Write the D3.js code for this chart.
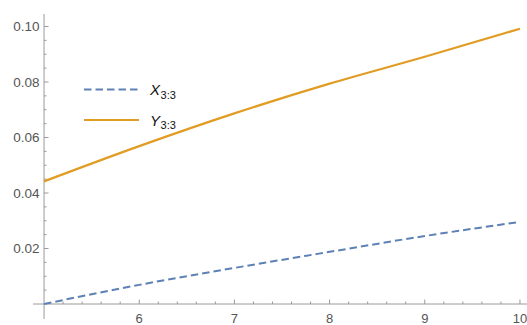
<!DOCTYPE html>
<html>
<head>
<meta charset="utf-8">
<script src="https://cdn.jsdelivr.net/npm/d3@7"></script>
<style>
  html, body { margin: 0; padding: 0; background: #fff; }
  svg { display: block; }
  text { font-family: "Liberation Sans", Arial, sans-serif; }
</style>
</head>
<body>
<svg id="chart" width="527" height="325"></svg>
<script>
// Series values sampled at n = 5 … 10
const xValues = [5, 6, 7, 8, 9, 10];
const xSeries = [0.0, 0.0069, 0.0130, 0.0188, 0.0245, 0.0296];
const ySeries = [0.0442, 0.0569, 0.0687, 0.0794, 0.0891, 0.0992];

const xTickValues = [6, 7, 8, 9, 10];
const yTickValues = [0.02, 0.04, 0.06, 0.08, 0.10];
const yTickLabels = ["0.02", "0.04", "0.06", "0.08", "0.10"];

const seriesNames = ["X", "Y"];
const seriesSub = ["3:3", "3:3"];
const seriesColors = ["#5E81B5", "#E19C24"];

const W = 527, H = 325;
const svg = d3.select("#chart");

const x = d3.scaleLinear().domain([4.884, 10.116]).range([33, 531]);
const y = d3.scaleLinear().domain([-0.0054, 0.1045]).range([319, 14]);

const axisColor = "#9a9a9a";
const labelColor = "#555";

// Axis lines: x-axis at y = 0, y-axis at x = 5
svg.append("line")
  .attr("x1", x.range()[0]).attr("x2", x.range()[1])
  .attr("y1", y(0)).attr("y2", y(0))
  .attr("stroke", axisColor).attr("stroke-width", 1);
svg.append("line")
  .attr("x1", x(5)).attr("x2", x(5))
  .attr("y1", y.range()[0]).attr("y2", y.range()[1])
  .attr("stroke", axisColor).attr("stroke-width", 1);

// X ticks (pointing up), minor every 0.2
const xMinor = d3.range(5.2, 10.01, 0.2).filter(v => Math.abs(v - Math.round(v)) > 1e-6);
svg.append("g").selectAll("line").data(xMinor).join("line")
  .attr("x1", d => x(d)).attr("x2", d => x(d))
  .attr("y1", y(0)).attr("y2", y(0) - 2.5)
  .attr("stroke", axisColor);
svg.append("g").selectAll("line").data(xTickValues).join("line")
  .attr("x1", d => x(d)).attr("x2", d => x(d))
  .attr("y1", y(0)).attr("y2", y(0) - 4.5)
  .attr("stroke", axisColor);
svg.append("g").selectAll("text").data(xTickValues).join("text")
  .attr("x", d => x(d)).attr("y", 322.5)
  .attr("text-anchor", "middle")
  .attr("font-size", 13).attr("fill", labelColor)
  .text(d => d);

// Y ticks (pointing right), minor every 0.005
const yMinor = d3.range(0.005, 0.1041, 0.005).filter(v => Math.abs(v / 0.02 - Math.round(v / 0.02)) > 1e-6);
svg.append("g").selectAll("line").data(yMinor).join("line")
  .attr("x1", x(5)).attr("x2", x(5) + 2.5)
  .attr("y1", d => y(d)).attr("y2", d => y(d))
  .attr("stroke", axisColor);
svg.append("g").selectAll("line").data(yTickValues).join("line")
  .attr("x1", x(5)).attr("x2", x(5) + 4.5)
  .attr("y1", d => y(d)).attr("y2", d => y(d))
  .attr("stroke", axisColor);
svg.append("g").selectAll("text").data(yTickValues).join("text")
  .attr("x", 39.5).attr("y", d => y(d))
  .attr("dy", "0.35em")
  .attr("text-anchor", "end")
  .attr("font-size", 13.5).attr("fill", labelColor)
  .text((d, i) => yTickLabels[i]);

// Curves
const line = d3.line()
  .x((d, i) => x(xValues[i]))
  .y(d => y(d))
  .curve(d3.curveMonotoneX);

svg.append("path").datum(ySeries)
  .attr("d", line).attr("fill", "none")
  .attr("stroke", seriesColors[1]).attr("stroke-width", 2.2);
svg.append("path").datum(xSeries)
  .attr("d", line).attr("fill", "none")
  .attr("stroke", seriesColors[0]).attr("stroke-width", 2)
  .attr("stroke-dasharray", "7.5,4");

// Legend
const legendRows = [
  { y: 89.5, color: seriesColors[0], dash: "7.5,4", name: seriesNames[0], sub: seriesSub[0] },
  { y: 120, color: seriesColors[1], dash: null, name: seriesNames[1], sub: seriesSub[1] }
];
const lg = svg.append("g");
legendRows.forEach(r => {
  lg.append("line")
    .attr("x1", 84).attr("x2", 139)
    .attr("y1", r.y).attr("y2", r.y)
    .attr("stroke", r.color).attr("stroke-width", 2.2)
    .attr("stroke-dasharray", r.dash);
  const t = lg.append("text")
    .attr("x", 150).attr("y", r.y + 5.5)
    .attr("font-size", 15).attr("fill", "#111");
  t.append("tspan").attr("font-style", "italic").text(r.name);
  t.append("tspan").attr("font-size", 11).attr("dy", 3.5).attr("dx", 0.5).text(r.sub);
});
</script>
</body>
</html>
